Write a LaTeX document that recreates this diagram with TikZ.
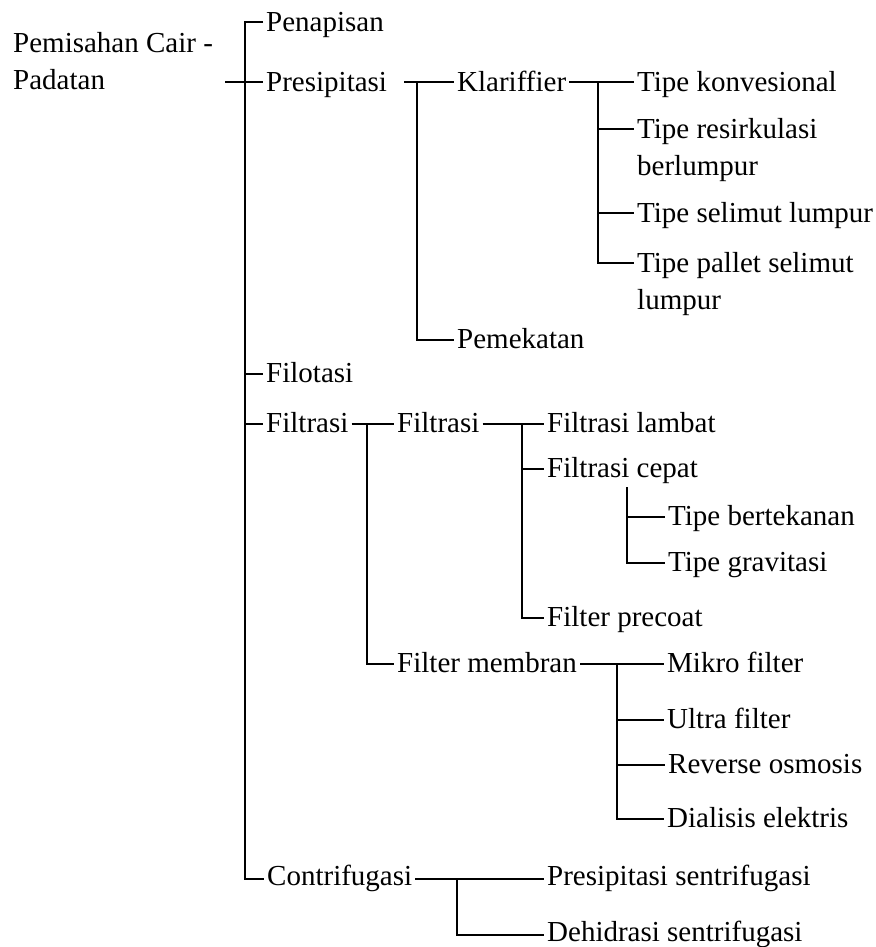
\documentclass[tikz,border=0pt]{standalone}
\usepackage{fontspec}
\setmainfont{Liberation Serif}
% #1 name, #2 x, #3 y of the connector line at the first text line,
% #4 number of extra lines below the first, #5 text; \bo = baseline offset
\def\bo{8}
\newcommand\mynode[5]{%
  \node[txt] (#1) at (#2,{#3+\bo+37*#4}) {#5};
  \coordinate (#1-l) at ([xshift=-3pt,yshift={\bo pt+37pt*#4}]#1.base west);
  \coordinate (#1-r) at ([xshift=3pt,yshift={\bo pt+37pt*#4}]#1.base east);}
\begin{document}
\begin{tikzpicture}[x=1pt,y=-1pt,
  txt/.style={anchor=base west,inner sep=0pt,font=\fontsize{29}{37}\selectfont,align=left},
  con/.style={line width=2pt,draw=black}]
\useasboundingbox (0,0) rectangle (875,947);
% nodes
\def\bo{9.5}
\mynode{root}{13}{43}{1}{Pemisahan Cair -\\Padatan}
\mynode{pen}{266}{22}{0}{Penapisan}
\mynode{pre}{266}{82}{0}{Presipitasi}
\mynode{kla}{457}{82}{0}{Klariffier}
\mynode{tk}{637}{82}{0}{Tipe konvesional}
\mynode{tr}{637}{129}{1}{Tipe resirkulasi\\berlumpur}
\mynode{ts}{637}{213}{0}{Tipe selimut lumpur}
\mynode{tp}{637}{263}{1}{Tipe pallet selimut\\lumpur}
\def\bo{8}
\mynode{pem}{457}{340}{0}{Pemekatan}
\mynode{fil}{266}{374}{0}{Filotasi}
\mynode{ft}{266}{424}{0}{Filtrasi}
\mynode{ftb}{397}{424}{0}{Filtrasi}
\mynode{fl}{547}{424}{0}{Filtrasi lambat}
\mynode{fc}{547}{469}{0}{Filtrasi cepat}
\mynode{tb}{668}{517}{0}{Tipe bertekanan}
\mynode{tg}{668}{563}{0}{Tipe gravitasi}
\mynode{fp}{547}{618}{0}{Filter precoat}
\mynode{fm}{397}{664}{0}{Filter membran}
\mynode{mf}{667}{664}{0}{Mikro filter}
\mynode{uf}{667}{720}{0}{Ultra filter}
\mynode{ro}{668}{765}{0}{Reverse osmosis}
\mynode{de}{667}{819}{0}{Dialisis elektris}
\def\bo{6}
\mynode{con}{267}{879}{0}{Contrifugasi}
\mynode{ps}{547}{879}{0}{Presipitasi sentrifugasi}
\mynode{dh}{547}{935}{0}{Dehidrasi sentrifugasi}
% junctions
\coordinate (rootout) at (225,82);
\coordinate (j0) at (245,82);
\coordinate (j1) at (417,82);
\coordinate (j2) at (598,82);
\coordinate (j3) at (367,424);
\coordinate (j4) at (522,424);
\coordinate (j5) at (627,487);
\coordinate (j6) at (617,664);
\coordinate (j7) at (457,879);
% connectors
\draw[con] (rootout) -- (pre-l);
\draw[con] (pen-l) -| (j0) |- (con-l);
\draw[con] (j0 |- fil-l) -- (fil-l);
\draw[con] (j0 |- ft-l) -- (ft-l);
\draw[con] ([xshift=14pt]pre-r) -- (kla-l);
\draw[con] (j1) |- (pem-l);
\draw[con] (kla-r) -- (tk-l);
\draw[con] (j2) |- (tp-l);
\draw[con] (j2 |- tr-l) -- (tr-l);
\draw[con] (j2 |- ts-l) -- (ts-l);
\draw[con] (ft-r) -- (ftb-l);
\draw[con] (j3) |- (fm-l);
\draw[con] (ftb-r) -- (fl-l);
\draw[con] (j4) |- (fp-l);
\draw[con] (j4 |- fc-l) -- (fc-l);
\draw[con] (j5) |- (tg-l);
\draw[con] (j5 |- tb-l) -- (tb-l);
\draw[con] (fm-r) -- (mf-l);
\draw[con] (j6) |- (de-l);
\draw[con] (j6 |- uf-l) -- (uf-l);
\draw[con] (j6 |- ro-l) -- (ro-l);
\draw[con] (con-r) -- (ps-l);
\draw[con] (j7) |- (dh-l);
\end{tikzpicture}
\end{document}
